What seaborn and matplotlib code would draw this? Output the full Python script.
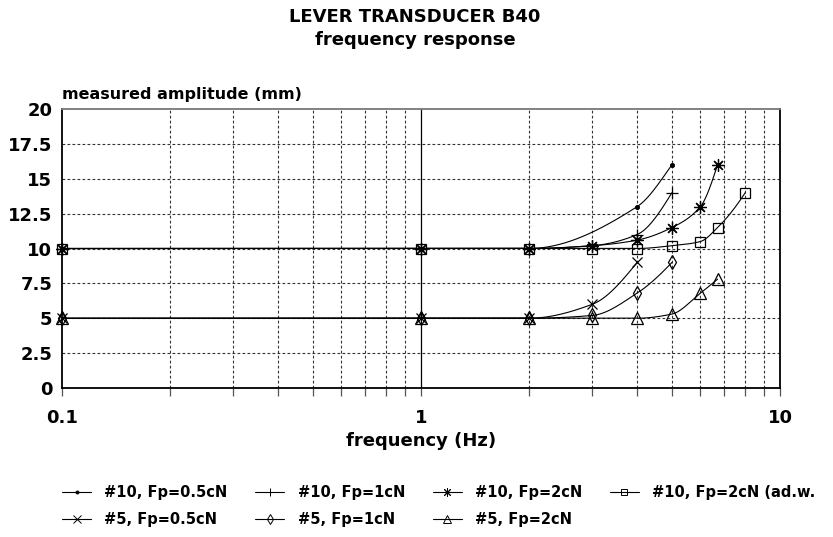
import numpy as np
import pandas as pd
import matplotlib
matplotlib.use("Agg")
import matplotlib.pyplot as plt
import seaborn as sns
from matplotlib.lines import Line2D
from matplotlib.ticker import FixedLocator, FixedFormatter, NullFormatter

# ---------------- data ----------------
freq_10_05 = [0.1, 1, 2, 4, 5]
amp_10_05 = [10, 10, 10, 13, 16]

freq_10_1 = [0.1, 1, 2, 3, 4, 5]
amp_10_1 = [10, 10, 10, 10.2, 11, 14]

freq_10_2 = [0.1, 1, 2, 3, 4, 5, 6, 6.7]
amp_10_2 = [10, 10, 10, 10.2, 10.6, 11.5, 13, 16]

freq_10_2adw = [0.1, 1, 2, 3, 4, 5, 6, 6.7, 8]
amp_10_2adw = [10, 10, 10, 10, 10, 10.2, 10.5, 11.5, 14]

freq_5_05 = [0.1, 1, 2, 3, 4]
amp_5_05 = [5, 5, 5, 6, 9]

freq_5_1 = [0.1, 1, 2, 3, 4, 5]
amp_5_1 = [5, 5, 5, 5.2, 6.8, 9]

freq_5_2 = [0.1, 1, 2, 3, 4, 5, 6, 6.7]
amp_5_2 = [5, 5, 5, 5, 5, 5.3, 6.8, 7.8]

series_labels = ["#10, Fp=0.5cN", "#10, Fp=1cN", "#10, Fp=2cN", "#10, Fp=2cN (ad.w.",
                 "#5, Fp=0.5cN", "#5, Fp=1cN", "#5, Fp=2cN"]

y_ticks = [0, 2.5, 5, 7.5, 10, 12.5, 15, 17.5, 20]
y_ticklabels = ["0", "2.5", "5", "7.5", "10", "12.5", "15", "17.5", "20"]
x_major = [0.1, 1, 10]
x_ticklabels = ["0.1", "1", "10"]

title1 = "LEVER TRANSDUCER B40"
title2 = "frequency response"
y_title = "measured amplitude (mm)"
x_title = "frequency (Hz)"

# ---------------- styles ----------------
styles = [
    dict(marker="o", ms=3.0, mfc="black", mec="black", mew=0.6),
    dict(marker="+", ms=9, mfc="black", mec="black", mew=0.9),
    dict(marker=(8, 2, 0), ms=9, mfc="black", mec="black", mew=0.9),
    dict(marker="s", ms=7, mfc="none", mec="black", mew=0.9),
    dict(marker="x", ms=7.5, mfc="black", mec="black", mew=0.9),
    dict(marker="d", ms=7.5, mfc="none", mec="black", mew=0.9),
    dict(marker="^", ms=8.5, mfc="none", mec="black", mew=0.9),
]

data = [(freq_10_05, amp_10_05), (freq_10_1, amp_10_1), (freq_10_2, amp_10_2),
        (freq_10_2adw, amp_10_2adw), (freq_5_05, amp_5_05), (freq_5_1, amp_5_1),
        (freq_5_2, amp_5_2)]


def smooth_curve(xk, yk, n=200):
    """Shape-preserving cubic (PCHIP) drawn in log10(x) space, for display only."""
    lx = np.log10(np.asarray(xk, float))
    y = np.asarray(yk, float)
    h = np.diff(lx)
    d = np.diff(y) / h
    m = np.zeros_like(y)
    for k in range(1, len(y) - 1):
        if d[k - 1] * d[k] <= 0:
            m[k] = 0.0
        else:
            w1 = 2 * h[k] + h[k - 1]
            w2 = h[k] + 2 * h[k - 1]
            m[k] = (w1 + w2) / (w1 / d[k - 1] + w2 / d[k])

    def end(h0, h1, d0, d1):
        s = ((2 * h0 + h1) * d0 - h0 * d1) / (h0 + h1)
        if np.sign(s) != np.sign(d0):
            s = 0.0
        elif np.sign(d0) != np.sign(d1) and abs(s) > abs(3 * d0):
            s = 3 * d0
        return s

    m[0] = end(h[0], h[1], d[0], d[1])
    m[-1] = end(h[-1], h[-2], d[-1], d[-2])
    xs, ys = [], []
    for k in range(len(h)):
        t = np.linspace(0, 1, n)
        h00 = 2 * t**3 - 3 * t**2 + 1
        h10 = t**3 - 2 * t**2 + t
        h01 = -2 * t**3 + 3 * t**2
        h11 = t**3 - t**2
        yy = h00 * y[k] + h10 * h[k] * m[k] + h01 * y[k + 1] + h11 * h[k] * m[k + 1]
        xx = 10 ** (lx[k] + t * h[k])
        xs.append(xx)
        ys.append(yy)
    return np.concatenate(xs), np.concatenate(ys)


# ---------------- figure ----------------
sns.set_theme(style="white")
plt.rcParams["font.family"] = ["DejaVu Sans"]
plt.rcParams["font.weight"] = "bold"
for key in ("text.color", "axes.labelcolor", "xtick.labelcolor", "ytick.labelcolor"):
    plt.rcParams[key] = "black"

fig = plt.figure(figsize=(8.33, 5.37), dpi=100)
ax = fig.add_axes([62 / 833, 1 - 388 / 537, (780 - 62) / 833, (388 - 109) / 537])
ax.set_xscale("log")
ax.set_xlim(0.1, 10)
ax.set_ylim(0, 20)

# grid
minor_pos = [m * 10.0**e for e in (-1, 0) for m in range(2, 10)]
for xv in minor_pos:
    ax.axvline(xv, color="#333333", lw=0.8, ls=(0, (2.5, 2)), zorder=1)
for yv in y_ticks[1:-1]:
    ax.axhline(yv, color="#333333", lw=0.8, ls=(0, (2.5, 2)), zorder=1)
ax.axvline(1, color="black", lw=0.9, zorder=1)

for (fx, fy), st, lab in zip(data, styles, series_labels):
    cx, cy = smooth_curve(fx, fy)
    sns.lineplot(x=cx, y=cy, ax=ax, color="black", lw=0.8, sort=False,
                 estimator=None, legend=False, zorder=3)
    sns.lineplot(x=fx, y=fy, ax=ax, color="black", linestyle="", sort=False,
                 estimator=None, legend=False, zorder=4, clip_on=False,
                 marker=st["marker"], markersize=st["ms"],
                 markerfacecolor=st["mfc"], markeredgecolor=st["mec"],
                 markeredgewidth=st["mew"])

# spines
for s in ("left", "bottom", "right"):
    ax.spines[s].set_color("black")
    ax.spines[s].set_linewidth(1.3)
ax.spines["top"].set_color("#777777")
ax.spines["top"].set_linewidth(1.3)

# ticks
ax.xaxis.set_major_locator(FixedLocator(x_major))
ax.xaxis.set_major_formatter(FixedFormatter(x_ticklabels))
ax.xaxis.set_minor_locator(FixedLocator(minor_pos))
ax.xaxis.set_minor_formatter(NullFormatter())
ax.tick_params(axis="x", which="both", direction="out", length=6, width=0.9,
               color="#555555", bottom=True, top=False, pad=9)
ax.tick_params(axis="x", which="major", labelsize=13, labelcolor="black")
ax.set_yticks(y_ticks)
ax.set_yticklabels(y_ticklabels)
ax.tick_params(axis="y", which="both", length=0, pad=7, labelsize=13, labelcolor="black")
for lbl in ax.get_xticklabels() + ax.get_yticklabels():
    lbl.set_fontweight("bold")

ax.set_xlabel(x_title, fontsize=13, fontweight="bold", labelpad=4, color="black")
ax.set_ylabel("")

fig.text(62 / 833, 1 - 99 / 537, y_title, fontsize=11.5, fontweight="bold",
         ha="left", va="baseline", color="black")
fig.text(0.498, 1 - 17 / 537, title1, fontsize=13, fontweight="bold",
         ha="center", va="center", color="black")
fig.text(0.498, 1 - 40 / 537, title2, fontsize=13, fontweight="bold",
         ha="center", va="center", color="black")

# legend (row-major order for 4 columns)
handles = []
for st in styles:
    handles.append(Line2D([], [], color="black", lw=0.8, marker=st["marker"],
                          markersize=st["ms"] * 0.7, markerfacecolor=st["mfc"],
                          markeredgecolor=st["mec"], markeredgewidth=0.7))
order = [0, 4, 1, 5, 2, 6, 3]
leg = fig.legend([handles[i] for i in order], [series_labels[i] for i in order],
                 ncol=4, loc="upper left", bbox_to_anchor=(62 / 833, 1 - 485 / 537),
                 frameon=False, handlelength=2.0, handletextpad=0.9,
                 columnspacing=1.9, labelspacing=0.85,
                 prop={"weight": "bold", "size": 10.5}, borderaxespad=0, borderpad=0)
for t in leg.get_texts():
    t.set_color("black")

fig.savefig("out.png", dpi=100)
